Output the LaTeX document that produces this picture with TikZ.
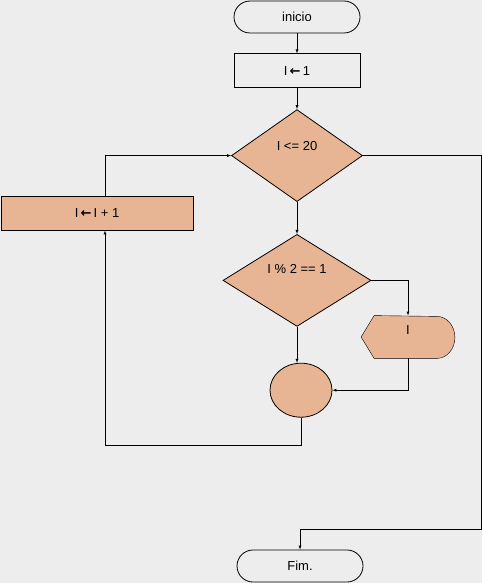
\documentclass[tikz,border=0pt]{standalone}
\usepackage{fontspec}
\setmainfont{Liberation Sans}
\newfontfamily\arrfont{DejaVu Sans}
\usetikzlibrary{positioning,shapes.geometric,calc}
\definecolor{procclr}{rgb}{0.91, 0.71, 0.58}
\definecolor{bgclr}{rgb}{0.93, 0.93, 0.93}
\newcommand{\getsarr}{\,{\arrfont\bfseries ←}\,}
\pgfdeclarelayer{back}
\pgfsetlayers{back,main}
\tikzset{ %
  ,>=latex
  ,every node/.style={font=\fontsize{13}{15}\selectfont}
  ,term/.style={draw, rectangle, rounded corners=16pt, minimum width=126pt, minimum height=32pt, inner sep=0}
  ,proc/.style={draw, rectangle, minimum height=34pt, inner sep=0}
  ,dec/.style={draw, diamond, inner sep=0, minimum height=92pt, fill=procclr}
  ,junction/.style={draw, ellipse, inner sep=0, minimum width=62pt, minimum height=54pt, fill=procclr}
  ,disp/.style={inner sep=0, minimum width=93pt, minimum height=42pt}
}

\begin{document}
\begin{tikzpicture}[x=1pt, y=-1pt, line width=0.8pt]
    \useasboundingbox (0,0) rectangle (482,583);
    \draw
    node[term] (start) at (297,17) {inicio}
    node[proc, minimum width=126pt, below=20pt of start] (init) {I\getsarr 1}
    node[dec, minimum width=131pt, below=21pt of init, label={[yshift=10pt]center:I <= 20}] (cond) {}
    node[dec, minimum width=148pt, below=32pt of cond, label={[yshift=11pt]center:I \% 2 == 1}] (odd) {}
    node[junction, below=36pt of odd, xshift=4pt] (merge) {}
    node[disp, label={[yshift=7pt]center:I}] (show) at (408,337) {}
    node[proc, fill=procclr, minimum width=192pt] (incr) at (97,213) {I\getsarr I + 1}
    node[term] (stop) at (300,566) {Fim.};
    \coordinate (rgt) at (481,529);
    \coordinate (back) at (105,445);
    \begin{pgfonlayer}{back}
      \fill[bgclr] (0,0) rectangle (482,583);
      \filldraw[fill=procclr] ($(show.north west)+(13pt,0pt)$) -- (show.west)
        -- ($(show.south west)+(13pt,0pt)$) -- ($(show.south east)+(-18pt,0pt)$)
        arc[start angle=-90, end angle=90, x radius=18pt, y radius=21pt] -- cycle;
    \end{pgfonlayer}
    \draw [->] (start) edge (init) (init) edge (cond) (cond) edge (odd)
      (odd) edge (odd.south |- merge.north);
    \draw [->] (odd.east) -| (show.north);
    \draw [->] (show.south) |- (merge.east);
    \draw [->] (cond.east) -| (rgt) -| (stop.north);
    \draw [->] (merge.south) |- (back) -- (back |- incr.south);
    \draw [->] (back |- incr.north) |- (cond.west);
  \end{tikzpicture}
\end{document}
